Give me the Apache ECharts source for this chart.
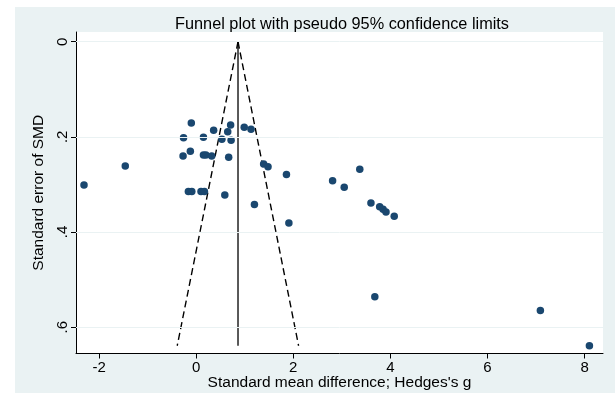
<!DOCTYPE html>
<html>
<head>
<meta charset="utf-8">
<script src="https://cdn.jsdelivr.net/npm/echarts@6/dist/echarts.min.js"></script>
<style>
html,body{margin:0;padding:0;background:#fff;}
#main{width:615px;height:393px;}
</style>
</head>
<body>
<div id="main"></div>
<script>
// studies: [Hedges's g, standard error]
var studies = [
	[-0.10,0.171],[0.71,0.175],[0.36,0.186],[0.65,0.189],[0.99,0.180],[1.13,0.184],
	[-0.26,0.202],[0.15,0.201],[0.53,0.205],[0.72,0.207],
	[-0.27,0.240],[-0.12,0.230],[0.15,0.238],[0.20,0.238],[0.32,0.240],[0.67,0.243],
	[1.39,0.257],[1.48,0.263],[1.86,0.279],[1.91,0.381],
	[2.81,0.292],[3.05,0.306],[3.37,0.268],[3.60,0.339],[3.78,0.347],[3.85,0.352],[3.91,0.358],[4.08,0.367],
	[-1.46,0.261],[-2.31,0.301],
	[-0.16,0.315],[-0.09,0.315],[0.10,0.315],[0.17,0.315],[0.59,0.322],[1.20,0.342],
	[3.68,0.536],[7.09,0.565],[8.10,0.639]
];
var pooledLine = [[0.862,0],[0.862,0.639]];
var lowerLimit = [[0.862,0],[-0.39,0.639]];
var upperLimit = [[0.862,0],[2.11,0.639]];
var xTicks = [-2,0,2,4,6,8];
var yTicks = [0,0.2,0.4,0.6];

var myChart = echarts.init(document.getElementById('main'));
var font = '"Liberation Sans", Arial, sans-serif';
var option = {
	backgroundColor:'#fff',
	animation:false,
	graphic:[{type:'rect',left:15,top:7,z:-100,silent:true,
		shape:{width:600,height:386},style:{fill:'#eaf2f3'}}],
	title:{
		text:'Funnel plot with pseudo 95% confidence limits',
		left:337, top:12, textAlign:'center',
		textStyle:{fontFamily:font,fontSize:16.3,fontWeight:'normal',color:'#000'}
	},
	grid:{left:76,right:12,top:32,bottom:39.5,show:true,backgroundColor:'#fff',borderWidth:0,
		outerBoundsMode:'none',containLabel:false},
	xAxis:{
		type:'value', min:-2.475, max:8.38,
		name:'Standard mean difference; Hedges\'s g',
		nameLocation:'middle', nameGap:21, nameMoveOverlap:false,
		nameTextStyle:{fontFamily:font,fontSize:15.5,color:'#000'},
		axisLine:{onZero:false,lineStyle:{color:'#000',width:1}},
		axisTick:{length:5,customValues:xTicks,lineStyle:{color:'#000'}},
		axisLabel:{customValues:xTicks,margin:7,fontFamily:font,fontSize:15,color:'#000'},
		splitLine:{show:false}
	},
	yAxis:{
		type:'value', inverse:true, min:-0.0204, max:0.6553,
		name:'Standard error of SMD',
		nameLocation:'middle', nameGap:29, nameMoveOverlap:false,
		nameTextStyle:{fontFamily:font,fontSize:15.5,color:'#000'},
		axisLine:{onZero:false,lineStyle:{color:'#000',width:1}},
		axisTick:{length:5,customValues:yTicks,lineStyle:{color:'#000'}},
		axisLabel:{customValues:yTicks,rotate:90,margin:6,fontFamily:font,fontSize:15,color:'#000',
			formatter:function(v){ return v===0 ? '0' : String(v).replace(/^0/,''); }},
		splitLine:{show:false}
	},
	series:[
		{
			type:'line', data:[], z:1, silent:true,
			markLine:{symbol:'none',silent:true,label:{show:false},
				lineStyle:{color:'#eaf2f3',type:'solid',width:1},
				data:yTicks.map(function(v){return {yAxis:v};})}
		},
		{type:'line',data:pooledLine,showSymbol:false,lineStyle:{color:'#000',width:1.3},z:3},
		{type:'line',data:lowerLimit,showSymbol:false,lineStyle:{color:'#000',width:1.4,type:[7,4]},z:3},
		{type:'line',data:upperLimit,showSymbol:false,lineStyle:{color:'#000',width:1.4,type:[7,4]},z:3},
		{type:'scatter',data:studies,symbol:'circle',symbolSize:7.5,itemStyle:{color:'#1a476f',opacity:1},z:4}
	]
};
myChart.setOption(option);
</script>
</body>
</html>
